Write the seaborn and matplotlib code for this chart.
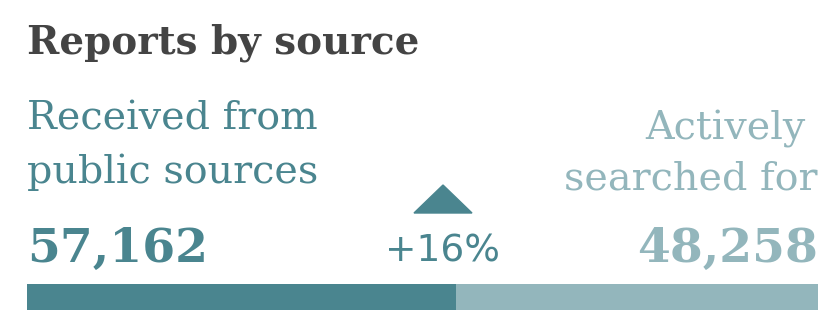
"""Reports by source: stacked share bar with headline numbers."""

import matplotlib
matplotlib.use("Agg")
import matplotlib.pyplot as plt
import pandas as pd
import seaborn as sns

W, H = 837, 310

sources = ["Received from\npublic sources", "Actively\nsearched for"]
counts = [57162, 48258]
change_label = "+16%"
title = "Reports by source"

DARK = "#4a858f"
LIGHT = "#93b6bc"
GREY = "#444444"


def fx(px):
    return px / W


def fy(py):
    return 1 - py / H


sns.set_theme(style="white")
plt.rcParams["font.family"] = ["DejaVu Serif"]

fig = plt.figure(figsize=(W / 100, H / 100), dpi=100)

# stacked bar along the bottom
ax = fig.add_axes([fx(27), 0, fx(818) - fx(27), 26 / H])
df = pd.DataFrame({"source": sources, "count": counts})
total = df["count"].sum()
sns.barplot(x=[total], y=[0], orient="h", color=LIGHT, width=1, ax=ax,
            saturation=1, linewidth=0)
sns.barplot(x=[df["count"].iloc[0]], y=[0], orient="h", color=DARK, width=1,
            ax=ax, saturation=1, linewidth=0)
ax.set_xlim(0, total)
ax.set_ylim(0.5, -0.5)
ax.axis("off")

fig.text(fx(27), fy(54), title, color=GREY, fontsize=28, fontweight="bold",
         va="baseline", ha="left")

left_lines = sources[0].split("\n")
right_lines = sources[1].split("\n")
fig.text(fx(27), fy(129), left_lines[0], color=DARK, fontsize=28.5,
         va="baseline", ha="left")
fig.text(fx(27), fy(183), left_lines[1], color=DARK, fontsize=28.5,
         va="baseline", ha="left")
fig.text(fx(806), fy(139), right_lines[0], color=LIGHT, fontsize=28.5,
         va="baseline", ha="right")
fig.text(fx(818), fy(190), right_lines[1], color=LIGHT, fontsize=28.5,
         va="baseline", ha="right")

fig.text(fx(27), fy(262), f"{counts[0]:,}", color=DARK, fontsize=34,
         fontweight="bold", va="baseline", ha="left")
fig.text(fx(818), fy(262), f"{counts[1]:,}", color=LIGHT, fontsize=34,
         fontweight="bold", va="baseline", ha="right")

# change indicator
fig.text(fx(443), fy(262), change_label, color=DARK, fontsize=27,
         family="DejaVu Sans", va="baseline", ha="center")
tri = plt.Polygon([(fx(414), fy(213)), (fx(472), fy(213)), (fx(443), fy(185))],
                  closed=True, color=DARK, transform=fig.transFigure)
fig.patches.append(tri)

fig.savefig("out.png", dpi=100, facecolor="white")
